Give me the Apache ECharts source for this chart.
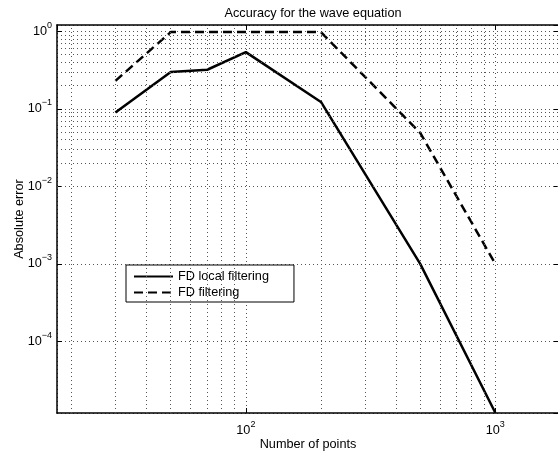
<!DOCTYPE html>
<html>
<head>
<meta charset="utf-8">
<script src="https://cdn.jsdelivr.net/npm/echarts@6/dist/echarts.min.js"></script>
<style>
  html, body { margin: 0; padding: 0; background: #fff; }
  #chart { width: 558px; height: 452px; }
</style>
</head>
<body>
<div id="chart"></div>
<script>
// datos
const points = [30, 50, 70, 100, 200, 500, 1000];
const localFiltering = [0.09, 0.30, 0.32, 0.54, 0.123, 0.001, 1.2e-5];
const fdFiltering = [0.23, 0.98, 0.98, 0.98, 0.98, 0.049, 0.001];

// lineas de rejilla menores (escala log)
const xMinorTicks = [20, 30, 40, 50, 60, 70, 80, 90, 200, 300, 400, 500, 600, 700, 800, 900];
const yMinorTicks = [
    2e-5, 3e-5, 4e-5, 5e-5, 6e-5, 7e-5, 8e-5, 9e-5,
    2e-4, 3e-4, 4e-4, 5e-4, 6e-4, 7e-4, 8e-4, 9e-4,
    2e-3, 3e-3, 4e-3, 5e-3, 6e-3, 7e-3, 8e-3, 9e-3,
    0.02, 0.03, 0.04, 0.05, 0.06, 0.07, 0.08, 0.09,
    0.2, 0.3, 0.4, 0.5, 0.6, 0.7, 0.8, 0.9
];

const FONT = 'Liberation Sans';
const gridDots = { color: '#555', width: 1, type: [1, 3] };

function decadeLabel(value) {
    const lg = Math.log10(value);
    const e = Math.round(lg);
    if (Math.abs(lg - e) > 1e-6) return '';
    return '{b|10}{s|' + (e < 0 ? '\u2212' + (-e) : e) + '}';
}

const labelRich = {
    b: { fontSize: 12.7, fontFamily: FONT, color: '#000', lineHeight: 15 },
    s: { fontSize: 9, fontFamily: FONT, color: '#000', lineHeight: 9, padding: [0, 0, 12, 0] }
};

const chart = echarts.init(document.getElementById('chart'));

const option = {
    backgroundColor: '#fff',
    animation: false,
    title: {
        text: 'Accuracy for the wave equation',
        left: 308,
        top: 2,
        textAlign: 'center',
        textStyle: { fontFamily: FONT, fontSize: 12.7, fontWeight: 'normal', color: '#000' }
    },
    legend: {
        orient: 'vertical',
        left: 126,
        top: 265,
        data: ['FD local filtering', 'FD filtering'],
        itemWidth: 39,
        itemHeight: 14,
        itemGap: 3,
        padding: [5, 25, 3, 7],
        borderColor: '#000',
        borderWidth: 1,
        backgroundColor: '#fff',
        itemStyle: { color: 'rgba(0,0,0,0)', borderColor: 'rgba(0,0,0,0)', borderWidth: 0 },
        textStyle: { fontFamily: FONT, fontSize: 12.7, color: '#000' }
    },
    grid: { left: 57, top: 25, width: 502, height: 388, show: false, outerBoundsMode: 'none', containLabel: false },
    xAxis: [{
        type: 'log',
        logBase: 10,
        min: 17.5,
        max: 1800,
        splitNumber: 2,
        name: 'Number of points',
        nameLocation: 'middle',
        nameGap: 25,
        nameMoveOverlap: false,
        nameTextStyle: { fontFamily: FONT, fontSize: 12.7, color: '#000' },
        axisLine: { lineStyle: { color: '#000', width: 1.5 } },
        axisTick: { inside: true, length: 5, lineStyle: { color: '#000' } },
        axisLabel: { formatter: decadeLabel, rich: labelRich, margin: 10, showMinLabel: false, showMaxLabel: false },
        splitLine: { show: true, lineStyle: gridDots }
    }, {
        type: 'log',
        logBase: 10,
        min: 17.5,
        max: 1800,
        splitNumber: 2,
        position: 'top',
        axisLine: { lineStyle: { color: '#000', width: 1.5 } },
        axisTick: { inside: true, length: 5, lineStyle: { color: '#000' } },
        axisLabel: { show: false },
        splitLine: { show: false }
    }],
    yAxis: [{
        type: 'log',
        logBase: 10,
        min: 1.19e-5,
        max: 1.21,
        name: 'Absolute error',
        nameLocation: 'middle',
        nameGap: 31,
        nameMoveOverlap: false,
        nameTextStyle: { fontFamily: FONT, fontSize: 12.7, color: '#000' },
        axisLine: { lineStyle: { color: '#000', width: 1.5 } },
        axisTick: { inside: true, length: 5, lineStyle: { color: '#000' } },
        axisLabel: { formatter: decadeLabel, rich: labelRich, margin: 5, showMinLabel: false, showMaxLabel: false },
        splitLine: { show: true, lineStyle: gridDots }
    }, {
        type: 'log',
        logBase: 10,
        min: 1.19e-5,
        max: 1.21,
        position: 'right',
        axisLine: { show: true, lineStyle: { color: '#000', width: 1.5 } },
        axisTick: { show: true, inside: true, length: 5, lineStyle: { color: '#000' } },
        axisLabel: { show: false },
        splitLine: { show: false }
    }],
    series: [
        {
            name: 'grid',
            type: 'line',
            data: [],
            silent: true,
            z: 1,
            markLine: {
                silent: true,
                symbol: 'none',
                label: { show: false },
                lineStyle: gridDots,
                data: xMinorTicks.map(v => ({ xAxis: v }))
                    .concat(yMinorTicks.map(v => ({ yAxis: v })))
            }
        },
        {
            name: 'FD local filtering',
            type: 'line',
            data: points.map((p, i) => [p, localFiltering[i]]),
            symbol: 'none',
            z: 3,
            lineStyle: { color: '#000', width: 2.5 },
            itemStyle: { color: '#000' }
        },
        {
            name: 'FD filtering',
            type: 'line',
            data: points.map((p, i) => [p, fdFiltering[i]]),
            symbol: 'none',
            z: 3,
            lineStyle: { color: '#000', width: 2.5, type: [9, 5] },
            itemStyle: { color: '#000' }
        }
    ]
};

chart.setOption(option);
</script>
</body>
</html>
